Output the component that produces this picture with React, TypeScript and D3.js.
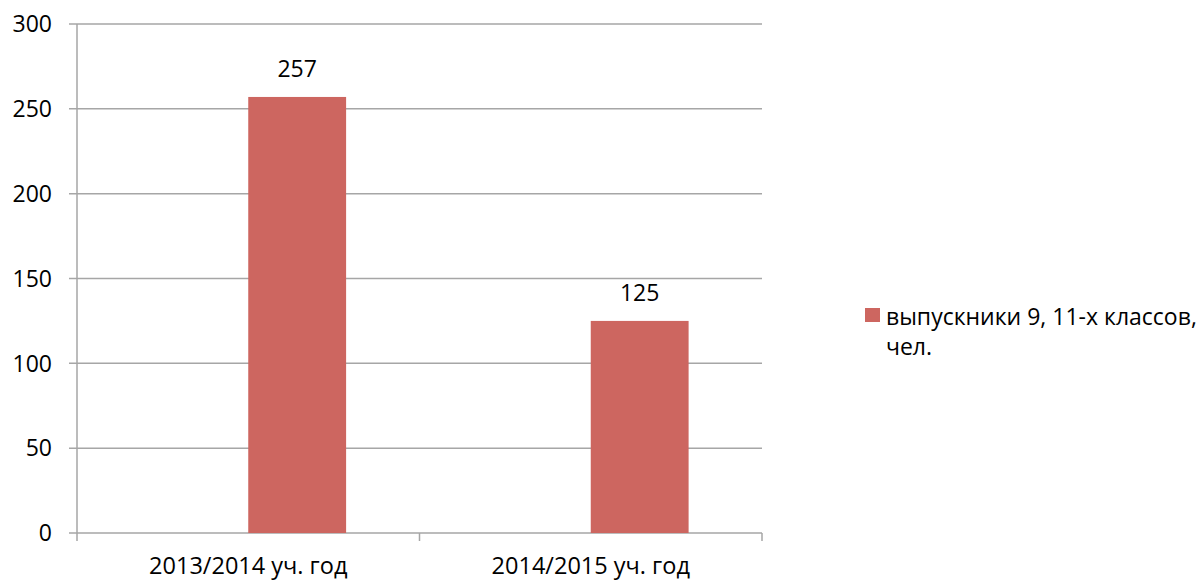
import React, { useEffect, useRef } from 'react';
import * as d3 from 'd3';

// chart data
const categories = ['2013/2014 уч. год', '2014/2015 уч. год'];
const seriesNames = ['', 'выпускники 9, 11-х классов, чел.'];
const emptySeries = [null, null];
const graduates = [257, 125];
const yTicks = [0, 50, 100, 150, 200, 250, 300];
const legendLines = ['выпускники 9, 11-х классов,', 'чел.'];

const FONT = '"Open Sans", "Noto Sans", sans-serif';

function App() {
  const ref = useRef<SVGSVGElement>(null);

  useEffect(() => {
    const svg = d3.select(ref.current);
    svg.selectAll('*').remove();

    const width = 1203;
    const height = 580;
    const margin = { top: 24, right: 441, bottom: 47, left: 77 };

    const x = d3
      .scaleBand()
      .domain(categories)
      .range([margin.left, width - margin.right]);

    const inner = d3
      .scaleBand()
      .domain(seriesNames)
      .range([0, x.bandwidth()])
      .paddingInner(0)
      .paddingOuter(0.75);

    const y = d3
      .scaleLinear()
      .domain([0, 300])
      .range([height - margin.bottom, margin.top]);

    const grid = '#a6a6a6';

    // horizontal gridlines
    svg
      .append('g')
      .selectAll('line')
      .data(yTicks)
      .join('line')
      .attr('x1', margin.left - 8)
      .attr('x2', width - margin.right)
      .attr('y1', (d) => y(d))
      .attr('y2', (d) => y(d))
      .attr('stroke', grid)
      .attr('stroke-width', 1.5);

    // y axis line
    svg
      .append('line')
      .attr('x1', margin.left)
      .attr('x2', margin.left)
      .attr('y1', y(300))
      .attr('y2', y(0) + 8)
      .attr('stroke', grid)
      .attr('stroke-width', 1.5);

    // x ticks at band edges
    const edges = [...categories.map((c) => x(c)!), width - margin.right];
    svg
      .append('g')
      .selectAll('line')
      .data(edges.slice(1))
      .join('line')
      .attr('x1', (d) => d)
      .attr('x2', (d) => d)
      .attr('y1', y(0))
      .attr('y2', y(0) + 8)
      .attr('stroke', grid)
      .attr('stroke-width', 1.5);

    // y tick labels
    svg
      .append('g')
      .selectAll('text')
      .data(yTicks)
      .join('text')
      .attr('x', margin.left - 25)
      .attr('y', (d) => y(d))
      .attr('dy', '0.36em')
      .attr('text-anchor', 'end')
      .attr('font-family', FONT)
      .attr('font-size', 23)
      .attr('fill', '#000')
      .text((d) => d);

    // x labels
    svg
      .append('g')
      .selectAll('text')
      .data(categories)
      .join('text')
      .attr('x', (d) => x(d)! + x.bandwidth() / 2)
      .attr('y', y(0) + 41)
      .attr('text-anchor', 'middle')
      .attr('font-family', FONT)
      .attr('font-size', 23.5)
      .attr('fill', '#000')
      .text((d) => d);

    // bars (second slot of grouped layout; first series empty)
    const color = '#cd6660';
    const rows = categories.map((c, i) => ({ c, a: emptySeries[i], v: graduates[i] }));
    svg
      .append('g')
      .selectAll('rect')
      .data(rows)
      .join('rect')
      .attr('x', (d) => x(d.c)! + inner(seriesNames[1])!)
      .attr('y', (d) => y(d.v))
      .attr('width', inner.bandwidth())
      .attr('height', (d) => y(0) - y(d.v))
      .attr('fill', color);

    // value labels
    svg
      .append('g')
      .selectAll('text')
      .data(rows)
      .join('text')
      .attr('x', (d) => x(d.c)! + inner(seriesNames[1])! + inner.bandwidth() / 2)
      .attr('y', (d) => y(d.v) - 20)
      .attr('text-anchor', 'middle')
      .attr('font-family', FONT)
      .attr('font-size', 23)
      .attr('fill', '#000')
      .text((d) => d.v);

    // legend
    const lg = svg.append('g').attr('transform', 'translate(865,308)');
    lg.append('rect').attr('width', 15).attr('height', 14).attr('fill', color);
    lg.selectAll('text')
      .data(legendLines)
      .join('text')
      .attr('x', 21)
      .attr('y', (d, i) => 17 + i * 30)
      .attr('font-family', FONT)
      .attr('font-size', 23)
      .attr('fill', '#000')
      .text((d) => d);
  }, []);

  return (
    <svg
      ref={ref}
      width={1203}
      height={580}
      style={{ position: 'absolute', left: 0, top: 0, background: '#fff' }}
    />
  );
}

export default App;
